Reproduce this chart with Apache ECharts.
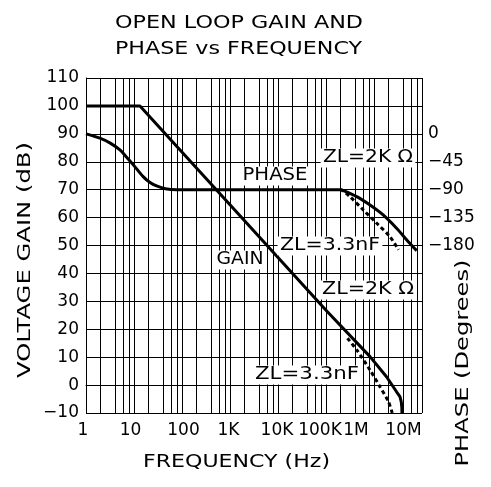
<!DOCTYPE html>
<html>
<head>
<meta charset="utf-8">
<script src="https://cdn.jsdelivr.net/npm/echarts@6/dist/echarts.min.js"></script>
<style>
  html, body { margin: 0; padding: 0; background: #fff; }
  #chart { width: 491px; height: 487px; }
</style>
</head>
<body>
<div id="chart"></div>
<script>
// frequency axis (Hz)
const freqTicks = [1, 10, 100, 1e3, 1e4, 1e5, 1e6, 1e7];
const freqLabels = ['1', '10', '100', '1K', '10K', '100K', '1M', '10M'];
// extra vertical grid lines inside each decade
const minorFreqs = [];
freqTicks.slice(0, -1).forEach(d => [2, 4, 6, 8].forEach(m => minorFreqs.push(m * d)));

// phase labels shown on the right axis (degrees)
const phaseLabels = [0, -45, -90, -135, -180];

// [Hz, dB]
const gain2k = [[1, 100], [13.3, 100], [1e3, 64.6], [1e5, 26.8], [8.26e5, 10.2], [1.82e6, 3.0],
  [2.95e6, -2.4], [3.47e6, -4.1], [3.7e6, -6], [3.8e6, -8], [3.82e6, -10]];
const gain3n3 = [[2.8e5, 16.8], [4.37e5, 12.6], [8.26e5, 5.4], [1.33e6, -0.6], [2.0e6, -5.9], [2.4e6, -10]];

// [Hz, degrees]
const phase2k = [[1, 0], [1.95, -7], [3.2, -15], [5.1, -26], [7.1, -38], [9.7, -50], [15.5, -69],
  [22, -79], [29.5, -84], [45, -88.5], [78, -90], [1.95e5, -90], [2.12e5, -90.5], [4.37e5, -101.3],
  [8.26e5, -114.8], [1.55e6, -130.8], [2.95e6, -152.2], [5.19e6, -173.8], [7.76e6, -188.3]];
const phase3n3 = [[1.95e5, -90], [2.12e5, -90.5], [3.16e5, -101.3], [6.03e5, -122.9], [1.14e6, -144.2],
  [2.14e6, -165.6], [3.24e6, -187]];

const FONT = '"DejaVu Sans", sans-serif';
const measureCtx = document.createElement('canvas').getContext('2d');
function stretch(text, size, width) {
  measureCtx.font = size + 'px "DejaVu Sans"';
  return width / measureCtx.measureText(text).width;
}
function label(text, x, y, width, opts) {
  opts = opts || {};
  const size = opts.size || 17;
  return {
    type: 'text', x: x, y: y, z: 100,
    rotation: opts.rotation || 0,
    scaleX: stretch(text, size, width),
    style: {
      text: text, fontSize: size, fontFamily: FONT, fill: '#000',
      align: 'center', verticalAlign: 'middle',
      backgroundColor: opts.bg ? '#fff' : null,
      padding: opts.bg ? [1, 2, 1, 2] : 0
    }
  };
}

// label nudges so they sit like the original (px, negative = left)
const labelShift = [-3, -3.5, 1.5, -1.5, -1, -6, -18, -18.5];
const rich = {};
labelShift.forEach((s, i) => {
  rich['l' + i] = {
    fontSize: 17, fontFamily: FONT, color: '#000',
    padding: s < 0 ? [0, -2 * s, 0, 0] : [0, 0, 0, 2 * s]
  };
});

const black = { color: '#000', width: 1 };
const chart = echarts.init(document.getElementById('chart'));
chart.setOption({
  animation: false,
  grid: { left: 86, right: 69, top: 78, bottom: 74 },
  xAxis: {
    type: 'log', logBase: 10, min: 1, max: 1e7, splitNumber: 7,
    axisLine: { show: true, lineStyle: black },
    axisTick: { show: false },
    splitLine: { show: true, lineStyle: black },
    axisLabel: {
      margin: 9, color: '#000',
      formatter: v => {
        const i = Math.round(Math.log10(v));
        return '{l' + i + '|' + freqLabels[i] + '}';
      },
      rich: rich
    }
  },
  yAxis: [{
    type: 'value', min: -10, max: 110, interval: 10,
    axisLine: { show: true, lineStyle: black },
    axisTick: { show: false },
    splitLine: { show: true, lineStyle: black },
    axisLabel: {
      margin: 7, fontSize: 17, fontFamily: FONT, color: '#000',
      formatter: v => v < 0 ? '\u2212' + Math.abs(v) : String(v)
    }
  }, {
    type: 'value', min: -450, max: 90, interval: 45, position: 'right',
    axisLine: { show: false }, axisTick: { show: false }, splitLine: { show: false },
    axisLabel: {
      margin: 6, fontSize: 17, fontFamily: FONT, color: '#000',
      formatter: v => phaseLabels.indexOf(v) < 0 ? '' : (v < 0 ? '\u2212' + Math.abs(v) : String(v))
    }
  }],
  series: [{
    name: 'Gain ZL=2K', type: 'line', data: gain2k, showSymbol: false,
    lineStyle: { color: '#000', width: 3 },
    markLine: {
      silent: true, symbol: 'none', z: 1,
      label: { show: false },
      lineStyle: { color: '#000', width: 1, type: 'solid' },
      data: minorFreqs.map(f => ({ xAxis: f }))
    }
  }, {
    name: 'Gain ZL=3.3nF', type: 'line', data: gain3n3, showSymbol: false, smooth: 0.2,
    lineStyle: { color: '#000', width: 3, type: [4, 3] }
  }, {
    name: 'Phase ZL=2K', type: 'line', yAxisIndex: 1, data: phase2k, showSymbol: false, smooth: 0.3,
    lineStyle: { color: '#000', width: 3 }
  }, {
    name: 'Phase ZL=3.3nF', type: 'line', yAxisIndex: 1, data: phase3n3, showSymbol: false, smooth: 0.3,
    lineStyle: { color: '#000', width: 3, type: [4, 3] }
  }],
  graphic: [
    label('OPEN LOOP GAIN AND', 239, 23.5, 248, { size: 18 }),
    label('PHASE vs FREQUENCY', 238.5, 49, 247, { size: 18 }),
    label('VOLTAGE GAIN (dB)', 25, 260, 236, { size: 18, rotation: Math.PI / 2 }),
    label('PHASE (Degrees)', 463, 363, 207, { size: 18, rotation: Math.PI / 2 }),
    label('FREQUENCY (Hz)', 236.5, 462, 187, { size: 18 }),
    label('PHASE', 275, 176, 65, { bg: true }),
    label('GAIN', 240, 260, 47, { bg: true }),
    label('ZL=2K \u03A9', 368, 158, 90, { bg: true }),
    label('ZL=3.3nF', 330, 246, 100, { bg: true }),
    label('ZL=2K \u03A9', 368, 290, 92, { bg: true }),
    label('ZL=3.3nF', 307, 375, 104, { bg: true })
  ]
});
</script>
</body>
</html>
